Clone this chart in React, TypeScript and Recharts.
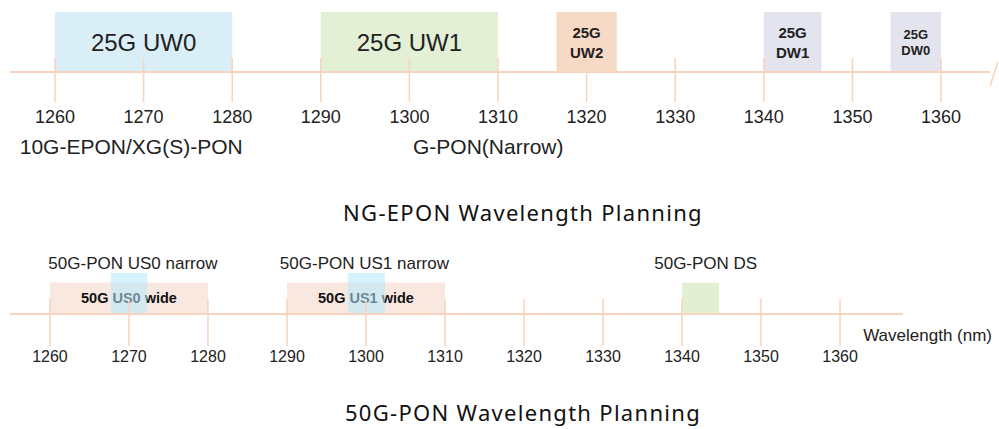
import React from 'react';
import { ComposedChart, XAxis, YAxis, ReferenceArea } from 'recharts';

// NG-EPON plan
const ngTicks = [1260, 1270, 1280, 1290, 1300, 1310, 1320, 1330, 1340, 1350, 1360];
const ngBands = ['25G UW0', '25G UW1', '25G UW2', '25G DW1', '25G DW0'];
const ngBandFrom = [1260, 1290, 1316.6, 1340, 1354.3];
const ngBandTo = [1280, 1310, 1323.4, 1346.5, 1360];
const ngLegacy = ['10G-EPON/XG(S)-PON', 'G-PON(Narrow)'];
const ngLegacyAt = [1268.6, 1308.9];

// 50G-PON plan
const ponTicks = [1260, 1270, 1280, 1290, 1300, 1310, 1320, 1330, 1340, 1350, 1360];
const ponWide = ['50G US0 wide', '50G US1 wide'];
const ponWideFrom = [1260, 1290];
const ponWideTo = [1280, 1310];
const ponNarrow = ['50G-PON US0 narrow', '50G-PON US1 narrow'];
const ponNarrowFrom = [1267.7, 1297.7];
const ponNarrowTo = [1272.3, 1302.4];
const ponDs = ['50G-PON DS'];
const ponDsFrom = [1340];
const ponDsTo = [1344.7];
const ponCaptions = ['50G-PON US0 narrow', '50G-PON US1 narrow', '50G-PON DS'];
const ponCaptionAt = [1270.5, 1299.8, 1343.0];

const bandFill: Record<string, string> = {
  '25G UW0': '#daeef8',
  '25G UW1': '#e3f0d5',
  '25G UW2': '#f6dac6',
  '25G DW1': '#e4e4ee',
  '25G DW0': '#e4e4ee',
};

const ngData = ngTicks.map((w) => ({ w, y: 0 }));
const ponData = ponTicks.map((w) => ({ w, y: 0 }));

const AXIS = '#f8d3bd';
const ARIAL = '"Liberation Sans", Arial, sans-serif';

function makeTick(up: number, down: number, dy: number, size: number) {
  return (props: any) => {
    const { x, y, payload } = props;
    return (
      <g>
        <line x1={x} x2={x} y1={y - up} y2={y + down} stroke={AXIS} strokeWidth={1.5} />
        <text x={x} y={y + dy} textAnchor="middle" dominantBaseline="central"
          fontFamily={ARIAL} fontSize={size} fill="#222">{payload.value}</text>
      </g>
    );
  };
}

function makeTextTick(names: string[], at: number[], dy: number, size: number) {
  return (props: any) => {
    const { x, y, payload } = props;
    const i = at.indexOf(payload.value);
    return (
      <text x={x} y={y + dy} textAnchor="middle" dominantBaseline="central"
        fontFamily={ARIAL} fontSize={size} fill="#222">{names[i]}</text>
    );
  };
}

function NgLabel(props: any) {
  const { viewBox, name } = props;
  const cx = viewBox.x + viewBox.width / 2;
  const cy = viewBox.y + viewBox.height / 2;
  if (name === '25G UW0' || name === '25G UW1') {
    return (
      <text x={cx} y={cy} textAnchor="middle" dominantBaseline="central"
        fontFamily={ARIAL} fontSize={24} fill="#222">{name}</text>
    );
  }
  const [a, b] = name.split(' ');
  const small = name === '25G DW0';
  const gap = small ? 8 : 10;
  return (
    <text textAnchor="middle" dominantBaseline="central" fontFamily={ARIAL}
      fontWeight="bold" fontSize={small ? 13 : 15} fill="#222">
      <tspan x={cx} y={cy - gap}>{a}</tspan>
      <tspan x={cx} y={cy + gap}>{b}</tspan>
    </text>
  );
}

function WideLabel(props: any) {
  const { viewBox, name } = props;
  const cx = viewBox.x + viewBox.width / 2;
  const cy = viewBox.y + viewBox.height / 2;
  return (
    <text x={cx} y={cy} textAnchor="middle" dominantBaseline="central"
      fontFamily={ARIAL} fontWeight="bold" fontSize={14.5} fill="#111">{name}</text>
  );
}

const ngDomain: [number, number] = [1254.92, 1365.53];
const ponDomain: [number, number] = [1254.94, 1367.97];

const titleStyle: React.CSSProperties = {
  position: 'absolute',
  left: 0,
  width: 1046,
  textAlign: 'center',
  fontFamily: '"Noto Sans", sans-serif',
  fontSize: 22,
  letterSpacing: 1.3,
  color: '#111',
  lineHeight: '30px',
};

export default function App() {
  return (
    <div style={{ position: 'absolute', left: 0, top: 0, width: 999, height: 429, background: '#fff' }}>
      <div style={{ position: 'absolute', left: 0, top: 0 }}>
        <ComposedChart width={999} height={175} data={ngData} margin={{ top: 12, right: 9, left: 10, bottom: 0 }}>
          <YAxis hide dataKey="y" domain={[0, 1]} allowDataOverflow />
          <XAxis dataKey="w" type="number" domain={ngDomain} ticks={ngTicks} allowDataOverflow height={58}
            axisLine={{ stroke: AXIS, strokeWidth: 2 }} tickLine={false} tickSize={0} tickMargin={0}
            tick={makeTick(14, 30, 44.5, 18)} interval={0}
            label={(p: any) => {
              const ex = p.viewBox.x + p.viewBox.width;
              return <line x1={ex} y1={p.viewBox.y + 14} x2={ex + 8} y2={p.viewBox.y - 10} stroke={AXIS} strokeWidth={1.5} />;
            }} />
          <XAxis xAxisId="legacy" dataKey="w" type="number" domain={ngDomain} ticks={ngLegacyAt} allowDataOverflow
            height={45} axisLine={false} tickLine={false} tickSize={0} tickMargin={0}
            tick={makeTextTick(ngLegacy, ngLegacyAt, 16.5, 21)} interval={0} />
          {ngBands.map((n, i) => (
            <ReferenceArea key={n} x1={ngBandFrom[i]} x2={ngBandTo[i]} y1={0} y2={1}
              fill={bandFill[n]} fillOpacity={1} stroke="none" ifOverflow="visible"
              label={<NgLabel name={n} />} />
          ))}
        </ComposedChart>
      </div>
      <div style={{ ...titleStyle, top: 197 }}>NG-EPON Wavelength Planning</div>
      <div style={{ position: 'absolute', left: 0, top: 240 }}>
        <ComposedChart width={999} height={140} data={ponData} margin={{ top: 0, right: 96, left: 10, bottom: 0 }}>
          <YAxis hide dataKey="y" domain={[0, 1]} allowDataOverflow />
          <XAxis xAxisId="captions" dataKey="w" orientation="top" type="number" domain={ponDomain} ticks={ponCaptionAt}
            allowDataOverflow height={33} axisLine={false} tickLine={false} tickSize={0} tickMargin={0}
            tick={makeTextTick(ponCaptions, ponCaptionAt, -10, 17)} interval={0} />
          <XAxis dataKey="w" type="number" domain={ponDomain} ticks={ponTicks} allowDataOverflow height={66}
            axisLine={{ stroke: AXIS, strokeWidth: 2 }} tickLine={false} tickSize={0} tickMargin={0}
            tick={makeTick(15, 32, 42.5, 16)} interval={0}
            label={(p: any) => (
              <text x={p.viewBox.x + p.viewBox.width + 89} y={p.viewBox.y + 21} textAnchor="end"
                dominantBaseline="central" fontFamily={ARIAL} fontSize={17} fill="#222">Wavelength (nm)</text>
            )} />
          {ponWide.map((n, i) => (
            <ReferenceArea key={n} x1={ponWideFrom[i]} x2={ponWideTo[i]} y1={0} y2={0.77}
              fill="#f9e8df" fillOpacity={1} stroke="none" ifOverflow="visible" label={<WideLabel name={n} />} />
          ))}
          {ponNarrow.map((n, i) => (
            <ReferenceArea key={n} x1={ponNarrowFrom[i]} x2={ponNarrowTo[i]} y1={0} y2={1}
              fill="#b4e8fb" fillOpacity={0.55} stroke="none" ifOverflow="visible" />
          ))}
          {ponDs.map((n, i) => (
            <ReferenceArea key={n} x1={ponDsFrom[i]} x2={ponDsTo[i]} y1={0} y2={0.76}
              fill="#e3efd3" fillOpacity={1} stroke="none" ifOverflow="visible" />
          ))}
        </ComposedChart>
      </div>
      <div style={{ ...titleStyle, top: 397 }}>50G-PON Wavelength Planning</div>
    </div>
  );
}
